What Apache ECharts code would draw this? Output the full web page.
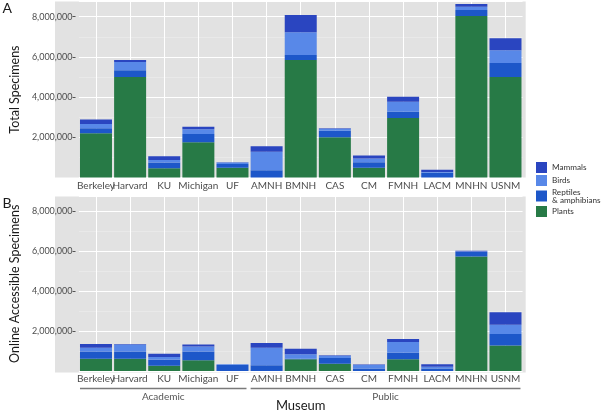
<!DOCTYPE html>
<html><head><meta charset="utf-8">
<script src="https://cdn.jsdelivr.net/npm/echarts/dist/echarts.min.js"></script>
<style>html,body{margin:0;padding:0;background:#fff}#c{width:601px;height:413px}</style>
</head><body><div id="c"></div>
<script>
const categories = ['Berkeley','Harvard','KU','Michigan','UF','AMNH','BMNH','CAS','CM','FMNH','LACM','MNHN','USNM'];
const groupAcademic = ['Berkeley','UF'];
const groupPublic = ['AMNH','USNM'];
const seriesNames = ['Plants','Reptiles\n& amphibians','Birds','Mammals'];
const seriesColors = ['#277a46','#1d57c9','#5888e8','#2a45c0'];

// Panel A: total specimens
const totalPlants   = [2200000,5000000,460000,1750000,490000,0,5850000,2000000,490000,2960000,0,8030000,5000000];
const totalReptiles = [250000,330000,280000,410000,180000,360000,240000,330000,270000,310000,240000,300000,700000];
const totalBirds    = [210000,420000,130000,240000,70000,920000,1130000,100000,180000,500000,30000,170000,630000];
const totalMammals  = [230000,100000,190000,130000,20000,270000,860000,20000,150000,250000,120000,130000,600000];

// Panel B: online accessible specimens
const onlinePlants   = [620000,620000,260000,540000,0,0,590000,370000,0,590000,0,5750000,1280000];
const onlineReptiles = [360000,360000,310000,440000,300000,290000,30000,280000,120000,330000,130000,220000,580000];
const onlineBirds    = [190000,350000,130000,250000,40000,880000,220000,120000,180000,530000,80000,20000,460000];
const onlineMammals  = [190000,30000,170000,100000,0,240000,280000,20000,20000,160000,130000,40000,630000];

const yMax = 8750000, yInterval = 2000000;

const FONT = 'Lato';
const chart = echarts.init(document.getElementById('c'), null, {renderer:'canvas'});
const fmt = v => String(Math.round(v)).replace(/\B(?=(\d{3})+(?!\d))/g, ',');

function yAxisFor(idx, name){
  return {
    gridIndex: idx, type:'value', min:0, max:yMax, interval:yInterval, offset:3.4,
    name: name, nameLocation:'middle', nameGap:51,
    nameTextStyle:{fontFamily:FONT, fontSize:12.5, color:'#1a1a1a'},
    axisLine:{show:false},
    axisTick:{show:true, length:3, lineStyle:{color:'#555'}},
    axisLabel:{fontFamily:FONT, fontSize:9, color:'#4d4d4d', margin:3, formatter:fmt, showMaxLabel:false, showMinLabel:false},
    splitLine:{show:true, lineStyle:{color:'#ffffff', width:1}},
    minorSplitLine:{show:true, lineStyle:{color:'#ececec', width:0.7}},
    minorTick:{show:false, splitNumber:2}
  };
}
function xAxisFor(idx, extra){
  return Object.assign({
    gridIndex: idx, type:'category', data:categories,
    axisLine:{show:false},
    axisTick:{show:false},
    axisLabel:{fontFamily:FONT, fontSize:10, color:'#4d4d4d', margin:3, interval:0},
    splitLine:{show:false}
  }, extra||{});
}
const panelsData = [
  [totalPlants,totalReptiles,totalBirds,totalMammals],
  [onlinePlants,onlineReptiles,onlineBirds,onlineMammals]
];
const series = [];
panelsData.forEach((arrs, p) => {
  // vertical white grid lines at each category centre, behind the bars
  series.push({
    type:'line', name:'_grid'+p, xAxisIndex:p, yAxisIndex:p, data:[], z:1, silent:true,
    markLine:{silent:true, symbol:['none','none'], z:1, label:{show:false}, animation:false,
      lineStyle:{color:'#ffffff', width:1, type:'solid'}, emphasis:{disabled:true},
      data:categories.map(c => ({xAxis:c, lineStyle:{color:'#ffffff', width:1, type:'solid'}}))}
  });
  arrs.forEach((arr, i) => {
    series.push({
      type:'bar', name:seriesNames[i], xAxisIndex:p, yAxisIndex:p, stack:'s'+p, z:3,
      data:arr, barWidth:32, itemStyle:{color:seriesColors[i]}, emphasis:{disabled:true}
    });
  });
});

const gridL = 58.45, gridW = 464.1;
chart.setOption({
  animation:false,
  textStyle:{fontFamily:FONT},
  grid:[
    {left:gridL, width:gridW, top:1.6, height:175.9},
    {left:gridL, width:gridW, top:196.6, height:175.9}
  ],
  xAxis:[xAxisFor(0), xAxisFor(1, {name:'Museum', nameLocation:'middle', nameGap:28,
    nameTextStyle:{fontFamily:FONT, fontSize:13, color:'#1a1a1a'}})],
  yAxis:[yAxisFor(0,'Total Specimens'), yAxisFor(1,'Online Accessible Specimens')],
  legend:{
    orient:'vertical', left:531, top:157, itemWidth:11, itemHeight:11, itemGap:2,
    icon:'rect', selectedMode:false,
    data:[seriesNames[3],seriesNames[2],seriesNames[1],seriesNames[0]],
    textStyle:{fontFamily:FONT, fontSize:8.2, color:'#333'}
  },
  series:series
});

const cx = c => chart.convertToPixel({xAxisIndex:1}, c);
const a0 = cx(groupAcademic[0]) - 16, a1 = cx(groupAcademic[1]) + 14;
const p0 = cx(groupPublic[0]) - 16, p1 = cx(groupPublic[1]) + 15;
const lineY = 388.5;
chart.setOption({
  graphic:[
    {type:'rect', z:-10, silent:true, shape:{x:55, y:1.6, width:470.7, height:175.9}, style:{fill:'#e2e2e2'}},
    {type:'rect', z:-10, silent:true, shape:{x:55, y:196.6, width:470.7, height:175.9}, style:{fill:'#e2e2e2'}},
    {type:'text', left:2.5, top:1, style:{text:'A', font:'14px '+FONT, fill:'#1a1a1a'}},
    {type:'text', left:2.5, top:196, style:{text:'B', font:'14px '+FONT, fill:'#1a1a1a'}},
    {type:'line', shape:{x1:a0, y1:lineY, x2:a1, y2:lineY}, style:{stroke:'#7a7a7a', lineWidth:1.3}},
    {type:'line', shape:{x1:p0, y1:lineY, x2:p1, y2:lineY}, style:{stroke:'#7a7a7a', lineWidth:1.3}},
    {type:'text', x:(a0+a1)/2, y:397, style:{text:'Academic', font:'10px '+FONT, fill:'#555', textAlign:'center', textVerticalAlign:'middle'}},
    {type:'text', x:(p0+p1)/2, y:397, style:{text:'Public', font:'10px '+FONT, fill:'#555', textAlign:'center', textVerticalAlign:'middle'}}
  ]
});
</script>
</body></html>
